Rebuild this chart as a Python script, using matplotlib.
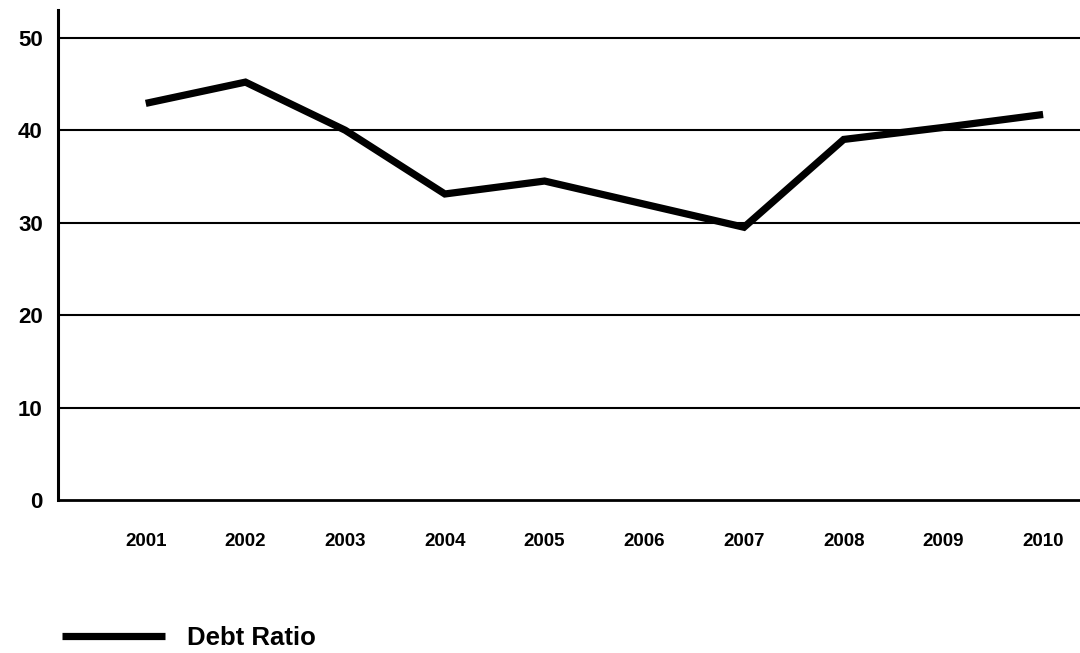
import matplotlib
matplotlib.use("Agg")
import matplotlib.pyplot as plt

years = [2001, 2002, 2003, 2004, 2005, 2006, 2007, 2008, 2009, 2010]
debt_ratio = [42.9, 45.2, 40.0, 33.1, 34.5, 32.0, 29.5, 39.0, 40.3, 41.7]
y_ticks = [0, 10, 20, 30, 40, 50]
series_label = "Debt Ratio"

plt.rcParams['font.family'] = ['Liberation Sans', 'DejaVu Sans']

fig = plt.figure(figsize=(10.8, 6.53), dpi=100)
ax = fig.add_axes([58/1080, 1 - 500/653, 1 - 58/1080, (500 - 10)/653])

for y in y_ticks[1:]:
    ax.axhline(y, color='black', lw=1.5, zorder=1)

ax.plot(years, debt_ratio, color='black', lw=5.2, solid_capstyle='butt',
        solid_joinstyle='miter', label=series_label, zorder=3)

ax.set_xlim(2000.12, 2010.37)
ax.set_ylim(0, 53)
ax.set_yticks(y_ticks)
ax.set_yticklabels([str(v) for v in y_ticks], fontsize=16, fontweight='bold')
ax.set_xticks(years)
ax.set_xticklabels([str(v) for v in years], fontsize=13.5, fontweight='bold')
ax.tick_params(axis='x', length=0, pad=24)
ax.tick_params(axis='y', length=0, pad=11)

for s in ['top', 'right']:
    ax.spines[s].set_visible(False)
ax.spines['left'].set_linewidth(2.2)
ax.spines['bottom'].set_linewidth(2.0)

fig.legend(loc='center left', bbox_to_anchor=(62/1080, 1 - 638/653),
           frameon=False, prop={'size': 18.5, 'weight': 'bold'},
           handlelength=4.0, handletextpad=0.85,
           borderpad=0, borderaxespad=0)

fig.savefig("out.png", dpi=100, facecolor='white')
